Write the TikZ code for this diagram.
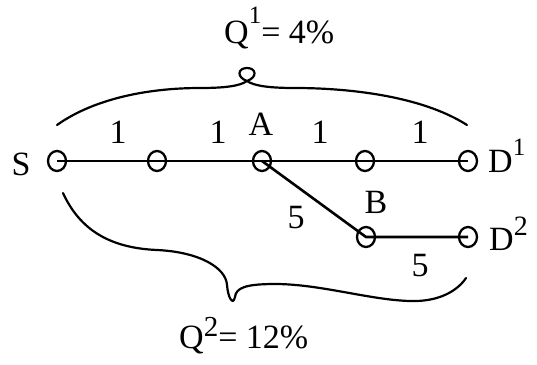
\documentclass[tikz,border=0pt]{standalone}
\usepackage{fontspec}
\setmainfont{Liberation Serif}
\usetikzlibrary{shapes.geometric}
\newcommand{\sups}[3][25]{\raisebox{#2}{\fontsize{#1}{#1}\selectfont #3}}

\begin{document}
\begin{tikzpicture}[x=1pt,y=-1pt,
    font=\fontsize{34}{40}\selectfont,
    vertex/.style={ellipse,draw,line width=2.3pt,minimum width=18pt,
      minimum height=20pt,inner sep=0pt},
    lbl/.style={inner sep=0pt,anchor=base},
    edge/.style={line width=2.6pt},
    brace/.style={line width=2.2pt,line cap=round}]
  \useasboundingbox (0,0) rectangle (537,364);
  % vertices
  \foreach \n/\x/\y in {s/57/161,n2/157/161,a/262/161,n4/365/161,
    d1/468/161,b/366/237,d2/468/237}
    \node[vertex] (\n) at (\x,\y) {};
  % links
  \draw[edge] (s.center) -- (n2.center) -- (a.center) -- (n4.center)
    -- (d1.center);
  \draw[edge] (a.center) -- (b.center) -- (d2.center);
  % weights and names
  \foreach \i/\x in {1/118,2/218,3/320,4/420}
    \node[lbl] (w\i) at (\x,143) {1};
  \node[lbl] (wab) at (296,228) {5};
  \node[lbl] (wbd) at (420,276) {5};
  \node[lbl] (ls) at (21,175) {S};
  \node[lbl] (la) at (261,135) {A};
  \node[lbl] (lb) at (376,213) {B};
  \node[lbl,anchor=base west] (ld1) at (488,172) {D\sups{17pt}{1}};
  \node[lbl,anchor=base west] (ld2) at (489,250) {D\sups[28]{15pt}{2}};
  % shares
  \node[lbl,anchor=base west] (q1) at (224,43) {Q\sups{20pt}{1}= 4\%};
  \node[lbl,anchor=base west] (q2) at (179,348) {Q\sups[29]{12pt}{2}= 12\%};
  \draw[brace] (57,125) .. controls (95,98) and (150,88) .. (200,88)
    .. controls (225,88) and (240,86) .. (247,81)
    .. controls (258,77) and (256,68) .. (247,68)
    .. controls (238,68) and (236,77) .. (247,81)
    .. controls (254,86) and (270,88) .. (295,88)
    .. controls (345,88) and (420,95) .. (467,125);
  \draw[brace] (63,193) .. controls (80,230) and (110,248) .. (157,250)
    .. controls (200,252) and (226,268) .. (227,285)
    .. controls (228,298) and (233,306) .. (235,297)
    .. controls (236,288) and (245,284) .. (275,284)
    .. controls (320,284) and (370,300) .. (410,301)
    .. controls (440,302) and (458,290) .. (466,278);
\end{tikzpicture}
\end{document}
